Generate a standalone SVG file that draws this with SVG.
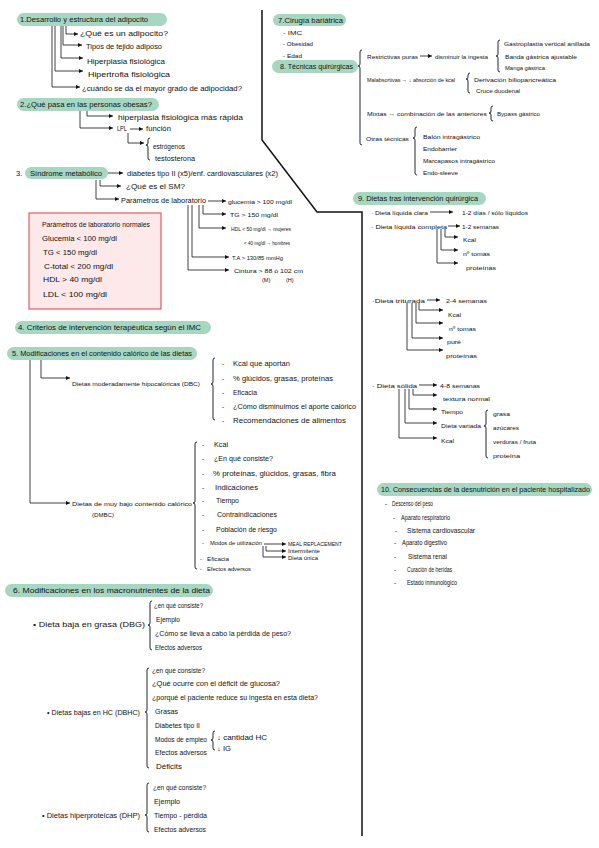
<svg xmlns="http://www.w3.org/2000/svg" width="599" height="848" viewBox="0 0 599 848">
<defs>
<style>
text{font-family:"Liberation Sans",Arial,sans-serif;fill:#111;font-size:6.5px}
.pill{fill:#a7d7c1}
.h{font-size:7.5px}
.c{stroke:#111;stroke-width:0.8;fill:none}
.a{marker-end:url(#ar)}
.br{stroke:#111;stroke-width:0.9;fill:none}
.s5{font-size:5.5px}.s55{font-size:6px}.s6{font-size:6.5px}.s7{font-size:7.5px}
.div{stroke:#111;stroke-width:1.5;fill:none}
</style>
<marker id="ar" viewBox="0 0 6 6" refX="6" refY="3" markerWidth="4" markerHeight="4" markerUnits="userSpaceOnUse" orient="auto"><path d="M0,0 L6,3 L0,6 z" fill="#111"/></marker>
</defs>
<rect width="599" height="848" fill="#fff"/>

<g id="connectors">
<path class="div" d="M262,10 V140 L317,212 H362 V836"/>
<path class="c a" d="M66,26 V34 H78"/>
<path class="c a" d="M63,26 V45 H82"/>
<path class="c a" d="M61,26 V58 H83"/>
<path class="c a" d="M55,26 V71 H83"/>
<path class="c a" d="M52,26 V87 H80"/>
<path class="c a" d="M87,111 V116 H113"/>
<path class="c a" d="M80,111 V128 H113"/>
<path class="c a" d="M130,129 H143"/>
<path class="c a" d="M128,133 V143 H144"/>
<path class="br" d="M150,138 Q148,138 148,140 L148,143 Q148,145 146,145 Q148,145 148,147 L148,158 Q148,160 150,160"/>
<path class="c a" d="M108,173 H123"/>
<path class="c a" d="M100,180 V186 H121"/>
<path class="c a" d="M96,180 V199 H119"/>
<path class="c a" d="M208,201 H226"/>
<path class="c a" d="M203,205 V214 H226"/>
<path class="c a" d="M199,205 V228 H226"/>
<path class="c a" d="M192,205 V257 H229"/>
<path class="c a" d="M188,205 V270 H229"/>
<path class="c a" d="M30,360 V503 H70"/>
<path class="c a" d="M41,360 V378 H70"/>
<path class="br" d="M215,358 Q213,358 213,360 L213,382 Q213,384 211,384 Q213,384 213,386 L213,418 Q213,420 215,420"/>
<path class="br" d="M197,442 Q195,442 195,444 L195,501 Q195,503 193,503 Q195,503 195,505 L195,567 Q195,569 197,569"/>
<path class="c a" d="M264,544 H286"/>
<path class="c a" d="M266,546 V551 H286"/>
<path class="c a" d="M263,546 V557 H286"/>
<path class="br" d="M152,601 Q150,601 150,603 L150,623 Q150,625 148,625 Q150,625 150,627 L150,648 Q150,650 152,650"/>
<path class="br" d="M149,668 Q147,668 147,670 L147,710 Q147,712 145,712 Q147,712 147,714 L147,766 Q147,768 149,768"/>
<path class="br" d="M215,731 Q213,731 213,733 L213,738 Q213,740 211,740 Q213,740 213,742 L213,748 Q213,750 215,750"/>
<path class="br" d="M149,783 Q147,783 147,785 L147,813 Q147,815 145,815 Q147,815 147,817 L147,830 Q147,832 149,832"/>
<path class="br" d="M362,50 Q360,50 360,52 L360,64 Q360,66 358,66 Q360,66 360,68 L360,143 Q360,145 362,145"/>
<path class="c a" d="M420,56 H432"/>
<path class="br" d="M500,40 Q498,40 498,42 L498,54 Q498,56 496,56 Q498,56 498,58 L498,70 Q498,72 500,72"/>
<path class="br" d="M470,73 Q468,73 468,75 L468,77 Q468,79 466,79 Q468,79 468,81 L468,91 Q468,93 470,93"/>
<path class="br" d="M493,106 Q491,106 491,108 L491,111 Q491,113 489,113 Q491,113 491,115 L491,119 Q491,121 493,121"/>
<path class="br" d="M417,127 Q415,127 415,129 L415,136 Q415,138 413,138 Q415,138 415,140 L415,173 Q415,175 417,175"/>
<path class="c a" d="M430,212 H453"/>
<path class="c a" d="M448,226 H460"/>
<path class="c a" d="M445,229 V237 H458"/>
<path class="c a" d="M441,229 V250 H458"/>
<path class="c a" d="M437,229 V263 H458"/>
<path class="c a" d="M427,300 H440"/>
<path class="c a" d="M419,303 V310 H443"/>
<path class="c a" d="M416,303 V323 H443"/>
<path class="c a" d="M412,303 V338 H443"/>
<path class="c a" d="M407,303 V350 H443"/>
<path class="c a" d="M419,385 H437"/>
<path class="c a" d="M413,389 V395 H437"/>
<path class="c a" d="M409,389 V409 H437"/>
<path class="c a" d="M405,389 V423 H437"/>
<path class="c a" d="M399,389 V438 H437"/>
<path class="br" d="M488,410 Q486,410 486,412 L486,424 Q486,426 484,426 Q486,426 486,428 L486,456 Q486,458 488,458"/>
</g>

<g id="n1">
<rect class="pill" x="17" y="13" width="150" height="13" rx="6.5"/>
<text class="h" x="20" y="22.3" textLength="128" lengthAdjust="spacingAndGlyphs">1.Desarrollo y estructura del adipocito</text>
<text class="s7" x="80" y="36" textLength="88" lengthAdjust="spacingAndGlyphs">¿Qué es un adipocito?</text>
<text class="s7" x="86" y="48.5" textLength="76" lengthAdjust="spacingAndGlyphs">Tipos de tejido adiposo</text>
<text class="s7" x="87" y="64" textLength="78" lengthAdjust="spacingAndGlyphs">Hiperplasia fisiológica</text>
<text class="s7" x="88" y="77" textLength="82" lengthAdjust="spacingAndGlyphs">Hipertrofia fisiológica</text>
<text class="s7" x="82" y="91" textLength="160" lengthAdjust="spacingAndGlyphs">¿cuándo se da el mayor grado de adipocidad?</text>
</g>

<g id="n2">
<rect class="pill" x="17" y="98" width="142" height="13" rx="6.5"/>
<text class="h" x="20" y="107.3" textLength="132" lengthAdjust="spacingAndGlyphs">2.¿Qué pasa en las personas obesas?</text>
<text class="s7" x="118" y="119.5" textLength="125" lengthAdjust="spacingAndGlyphs">hiperplasia fisiológica más rápida</text>
<text class="s6" x="117" y="131" textLength="10" lengthAdjust="spacingAndGlyphs">LPL</text>
<text class="s6" x="146" y="131" textLength="25" lengthAdjust="spacingAndGlyphs">función</text>
<text class="s6" x="153" y="149" textLength="32" lengthAdjust="spacingAndGlyphs">estrógenos</text>
<text class="s6" x="155" y="160.5" textLength="40" lengthAdjust="spacingAndGlyphs">testosterona</text>
</g>

<g id="n3">
<text class="h" x="16" y="175.5">3.</text>
<rect class="pill" x="25" y="167" width="83" height="12" rx="6"/>
<text class="h" x="30" y="175.8" textLength="72" lengthAdjust="spacingAndGlyphs">Síndrome metabólico</text>
<text class="s6" x="127" y="175.5" textLength="151" lengthAdjust="spacingAndGlyphs">diabetes tipo II (x5)/enf. cardiovasculares (x2)</text>
<text class="s6" x="126" y="188.5" textLength="59" lengthAdjust="spacingAndGlyphs">¿Qué es el SM?</text>
<text class="s6" x="121" y="203" textLength="85" lengthAdjust="spacingAndGlyphs">Parámetros de laboratorio</text>
<text class="s55" x="228" y="203.5" textLength="64" lengthAdjust="spacingAndGlyphs">glucemia &gt; 100 mg/dl</text>
<text class="s55" x="230" y="217" textLength="48" lengthAdjust="spacingAndGlyphs">TG &gt; 150 mg/dl</text>
<text class="s55" x="231" y="231" textLength="60" lengthAdjust="spacingAndGlyphs">HDL &lt; 50 mg/dl → mujeres</text>
<text class="s55" x="244" y="245" textLength="46" lengthAdjust="spacingAndGlyphs">&lt; 40 mg/dl → hombres</text>
<text class="s55" x="232" y="259.5" textLength="51" lengthAdjust="spacingAndGlyphs">T.A &gt; 130/85 mmHg</text>
<text class="s55" x="234" y="273" textLength="69" lengthAdjust="spacingAndGlyphs">Cintura &gt; 88 ó 102 cm</text>
<text class="s5" x="262" y="281.5">(M)</text>
<text class="s5" x="286" y="281.5">(H)</text>
</g>

<g id="normales">
<rect x="29" y="213" width="132" height="96" fill="#fde9e9" stroke="#e35d5d" stroke-width="1.2"/>
<text class="s6" x="42" y="226.5" textLength="108" lengthAdjust="spacingAndGlyphs">Parámetros de laboratorio normales</text>
<text class="s6" x="42" y="240.5" textLength="75" lengthAdjust="spacingAndGlyphs">Glucemia &lt; 100 mg/dl</text>
<text class="s6" x="43" y="254.5" textLength="54" lengthAdjust="spacingAndGlyphs">TG &lt; 150 mg/dl</text>
<text class="s6" x="44" y="268.5" textLength="69" lengthAdjust="spacingAndGlyphs">C-total &lt; 200 mg/dl</text>
<text class="s6" x="43" y="281.5" textLength="59" lengthAdjust="spacingAndGlyphs">HDL &gt; 40 mg/dl</text>
<text class="s6" x="43" y="296.5" textLength="64" lengthAdjust="spacingAndGlyphs">LDL &lt; 100 mg/dl</text>
</g>

<g id="n4">
<rect class="pill" x="15" y="321" width="196" height="13" rx="6.5"/>
<text class="h" x="18" y="330.2" textLength="183" lengthAdjust="spacingAndGlyphs">4. Criterios de intervención terapéutica según el IMC</text>
</g>

<g id="n5">
<rect class="pill" x="7" y="347" width="190" height="13" rx="6.5"/>
<text class="h" x="12" y="356.2" textLength="180" lengthAdjust="spacingAndGlyphs">5. Modificaciones en el contenido calórico de las dietas</text>
<text class="s55" x="72" y="386" textLength="128" lengthAdjust="spacingAndGlyphs">Dietas moderadamente hipocalóricas (DBC)</text>
<text class="s6" x="222" y="365.5">-</text><text class="s6" x="233" y="365.5" textLength="57" lengthAdjust="spacingAndGlyphs">Kcal que aportan</text>
<text class="s6" x="222" y="380.5">-</text><text class="s6" x="233" y="380.5" textLength="100" lengthAdjust="spacingAndGlyphs">% glúcidos, grasas, proteínas</text>
<text class="s6" x="222" y="394.5">-</text><text class="s6" x="233" y="394.5" textLength="24" lengthAdjust="spacingAndGlyphs">Eficacia</text>
<text class="s6" x="222" y="408.5">-</text><text class="s6" x="233" y="408.5" textLength="123" lengthAdjust="spacingAndGlyphs">¿Cómo disminuimos el aporte calórico</text>
<text class="s6" x="222" y="422.5">-</text><text class="s6" x="233" y="422.5" textLength="113" lengthAdjust="spacingAndGlyphs">Recomendaciones de alimentos</text>

<text class="s55" x="72" y="505.5" textLength="120" lengthAdjust="spacingAndGlyphs">Dietas de muy bajo contenido calórico</text>
<text class="s55" x="92" y="516.5" textLength="22" lengthAdjust="spacingAndGlyphs">(DMBC)</text>
<text class="s6" x="202" y="446.5">-</text><text class="s6" x="214" y="446.5" textLength="14" lengthAdjust="spacingAndGlyphs">Kcal</text>
<text class="s6" x="202" y="460.5">-</text><text class="s6" x="214" y="460.5" textLength="59" lengthAdjust="spacingAndGlyphs">¿En qué consiste?</text>
<text class="s6" x="202" y="475.5">-</text><text class="s6" x="213" y="475.5" textLength="123" lengthAdjust="spacingAndGlyphs">% proteínas, glúcidos, grasas, fibra</text>
<text class="s6" x="202" y="489.5">-</text><text class="s6" x="215" y="489.5" textLength="43" lengthAdjust="spacingAndGlyphs">Indicaciones</text>
<text class="s6" x="202" y="502.5">-</text><text class="s6" x="216" y="502.5" textLength="23" lengthAdjust="spacingAndGlyphs">Tiempo</text>
<text class="s6" x="202" y="516.5">-</text><text class="s6" x="217" y="516.5" textLength="60" lengthAdjust="spacingAndGlyphs">Contraindicaciones</text>
<text class="s6" x="202" y="531.5">-</text><text class="s6" x="216" y="531.5" textLength="61" lengthAdjust="spacingAndGlyphs">Población de riesgo</text>
<text class="s55" x="202" y="545">-</text><text class="s5" x="210" y="545" textLength="52" lengthAdjust="spacingAndGlyphs">Modos de utilización</text>
<text class="s5" x="288" y="545.5" textLength="54" lengthAdjust="spacingAndGlyphs">MEAL REPLACEMENT</text>
<text class="s5" x="288" y="552.5" textLength="32" lengthAdjust="spacingAndGlyphs">Intermitente</text>
<text class="s5" x="288" y="559.5" textLength="30" lengthAdjust="spacingAndGlyphs">Dieta única</text>
<text class="s55" x="200" y="561">-</text><text class="s55" x="207" y="561" textLength="22" lengthAdjust="spacingAndGlyphs">Eficacia</text>
<text class="s55" x="200" y="571">-</text><text class="s55" x="207" y="571" textLength="44" lengthAdjust="spacingAndGlyphs">Efectos adversos</text>
</g>

<g id="n6">
<rect class="pill" x="5" y="584" width="208" height="13" rx="6.5"/>
<text class="h" x="13" y="593.2" textLength="197" lengthAdjust="spacingAndGlyphs">6. Modificaciones en los macronutrientes de la dieta</text>
<text class="s6" x="33" y="627" textLength="112" lengthAdjust="spacingAndGlyphs">• Dieta baja en grasa (DBG)</text>
<text class="s6" x="154" y="607.5" textLength="49" lengthAdjust="spacingAndGlyphs">¿en qué consiste?</text>
<text class="s6" x="156" y="621.5" textLength="24" lengthAdjust="spacingAndGlyphs">Ejemplo</text>
<text class="s6" x="155" y="635.5" textLength="136" lengthAdjust="spacingAndGlyphs">¿Cómo se lleva a cabo la pérdida de peso?</text>
<text class="s6" x="155" y="649.5" textLength="47" lengthAdjust="spacingAndGlyphs">Efectos adversos</text>

<text class="s6" x="47" y="714.5" textLength="93" lengthAdjust="spacingAndGlyphs">• Dietas bajas en HC (DBHC)</text>
<text class="s6" x="152" y="672.5" textLength="53" lengthAdjust="spacingAndGlyphs">¿en qué consiste?</text>
<text class="s6" x="152" y="685.5" textLength="128" lengthAdjust="spacingAndGlyphs">¿Qué ocurre con el déficit de glucosa?</text>
<text class="s6" x="152" y="699.5" textLength="166" lengthAdjust="spacingAndGlyphs">¿porqué el paciente reduce su ingesta en esta dieta?</text>
<text class="s6" x="155" y="713.5" textLength="23" lengthAdjust="spacingAndGlyphs">Grasas</text>
<text class="s6" x="155" y="727.5" textLength="45" lengthAdjust="spacingAndGlyphs">Diabetes tipo II</text>
<text class="s6" x="155" y="741.5" textLength="52" lengthAdjust="spacingAndGlyphs">Modos de empleo</text>
<text class="s6" x="217" y="739.5" textLength="50" lengthAdjust="spacingAndGlyphs">↓ cantidad HC</text>
<text class="s6" x="217" y="750.5" textLength="14" lengthAdjust="spacingAndGlyphs">↓ IG</text>
<text class="s6" x="155" y="754.5" textLength="52" lengthAdjust="spacingAndGlyphs">Efectos adversos</text>
<text class="s6" x="156" y="768.5" textLength="26" lengthAdjust="spacingAndGlyphs">Déficits</text>

<text class="s6" x="42" y="817.5" textLength="98" lengthAdjust="spacingAndGlyphs">• Dietas hiperproteicas (DHP)</text>
<text class="s6" x="153" y="789.5" textLength="53" lengthAdjust="spacingAndGlyphs">¿en qué consiste?</text>
<text class="s6" x="154" y="804" textLength="26" lengthAdjust="spacingAndGlyphs">Ejemplo</text>
<text class="s6" x="154" y="817.5" textLength="53" lengthAdjust="spacingAndGlyphs">Tiempo - pérdida</text>
<text class="s6" x="154" y="832" textLength="52" lengthAdjust="spacingAndGlyphs">Efectos adversos</text>
</g>

<g id="n7">
<rect class="pill" x="273" y="14" width="73" height="12" rx="6"/>
<text class="h" x="278" y="22.8" textLength="65" lengthAdjust="spacingAndGlyphs">7.Cirugía bariátrica</text>
<text class="s55" x="283" y="34.5" textLength="19" lengthAdjust="spacingAndGlyphs">- IMC</text>
<text class="s55" x="283" y="45.5" textLength="30" lengthAdjust="spacingAndGlyphs">- Obesidad</text>
<text class="s55" x="283" y="57.5" textLength="19" lengthAdjust="spacingAndGlyphs">- Edad</text>
</g>

<g id="n8">
<rect class="pill" x="272" y="60" width="86" height="13" rx="6.5"/>
<text class="h" x="280" y="69.2" textLength="73" lengthAdjust="spacingAndGlyphs">8. Técnicas quirúrgicas</text>
<text class="s55" x="367" y="58.5" textLength="51" lengthAdjust="spacingAndGlyphs">Restrictivas puras</text>
<text class="s55" x="435" y="58.5" textLength="53" lengthAdjust="spacingAndGlyphs">disminuir la ingesta</text>
<text class="s55" x="504" y="45.5" textLength="86" lengthAdjust="spacingAndGlyphs">Gastroplastia vertical anillada</text>
<text class="s55" x="505" y="58.5" textLength="72" lengthAdjust="spacingAndGlyphs">Banda gástrica ajustable</text>
<text class="s55" x="505" y="70" textLength="40" lengthAdjust="spacingAndGlyphs">Manga gástrica</text>
<text class="s55" x="367" y="81.5" textLength="88" lengthAdjust="spacingAndGlyphs">Malabsortivas → ↓ absorción de kcal</text>
<text class="s55" x="474" y="81.5" textLength="82" lengthAdjust="spacingAndGlyphs">Derivación biliopancreática</text>
<text class="s55" x="476" y="93" textLength="44" lengthAdjust="spacingAndGlyphs">Cruce duodenal</text>
<text class="s55" x="367" y="115.5" textLength="120" lengthAdjust="spacingAndGlyphs">Mixtas → combinación de las anteriores</text>
<text class="s55" x="497" y="116" textLength="43" lengthAdjust="spacingAndGlyphs">Bypass gástrico</text>
<text class="s55" x="366" y="140.5" textLength="43" lengthAdjust="spacingAndGlyphs">Otras técnicas</text>
<text class="s55" x="423" y="138.5" textLength="57" lengthAdjust="spacingAndGlyphs">Balón intragástrico</text>
<text class="s55" x="423" y="150.5" textLength="34" lengthAdjust="spacingAndGlyphs">Endobarrier</text>
<text class="s55" x="423" y="162.5" textLength="72" lengthAdjust="spacingAndGlyphs">Marcapasos intragástrico</text>
<text class="s55" x="423" y="174.5" textLength="35" lengthAdjust="spacingAndGlyphs">Endo-sleeve</text>
</g>

<g id="n9">
<rect class="pill" x="353" y="192" width="133" height="13" rx="6.5"/>
<text class="h" x="358" y="201.2" textLength="120" lengthAdjust="spacingAndGlyphs">9. Dietas tras intervención quirúrgica</text>
<text class="s55" x="371" y="214.5" textLength="57" lengthAdjust="spacingAndGlyphs">· Dieta líquida clara</text>
<text class="s55" x="462" y="214.5" textLength="66" lengthAdjust="spacingAndGlyphs">1-2 días / sólo líquidos</text>
<text class="s55" x="371" y="228.5" textLength="76" lengthAdjust="spacingAndGlyphs">· Dieta líquida completa</text>
<text class="s55" x="462" y="228.5" textLength="37" lengthAdjust="spacingAndGlyphs">1-2 semanas</text>
<text class="s55" x="463" y="241.5" textLength="13" lengthAdjust="spacingAndGlyphs">Kcal</text>
<text class="s55" x="463" y="255.5" textLength="27" lengthAdjust="spacingAndGlyphs">nº tomas</text>
<text class="s55" x="466" y="269.5" textLength="30" lengthAdjust="spacingAndGlyphs">proteínas</text>
<text class="s55" x="372" y="302.5" textLength="53" lengthAdjust="spacingAndGlyphs">·Dieta triturada</text>
<text class="s55" x="446" y="302.5" textLength="41" lengthAdjust="spacingAndGlyphs">2-4 semanas</text>
<text class="s55" x="448" y="316.5" textLength="13" lengthAdjust="spacingAndGlyphs">Kcal</text>
<text class="s55" x="449" y="330.5" textLength="27" lengthAdjust="spacingAndGlyphs">nº tomas</text>
<text class="s55" x="447" y="343.5" textLength="14" lengthAdjust="spacingAndGlyphs">puré</text>
<text class="s55" x="446" y="358" textLength="31" lengthAdjust="spacingAndGlyphs">proteínas</text>
<text class="s55" x="372" y="387.5" textLength="45" lengthAdjust="spacingAndGlyphs">· Dieta sólida</text>
<text class="s55" x="440" y="387.5" textLength="40" lengthAdjust="spacingAndGlyphs">4-8 semanas</text>
<text class="s55" x="443" y="400.5" textLength="47" lengthAdjust="spacingAndGlyphs">textura normal</text>
<text class="s55" x="441" y="413.5" textLength="22" lengthAdjust="spacingAndGlyphs">Tiempo</text>
<text class="s55" x="441" y="427.5" textLength="40" lengthAdjust="spacingAndGlyphs">Dieta variada</text>
<text class="s55" x="441" y="442.5" textLength="13" lengthAdjust="spacingAndGlyphs">Kcal</text>
<text class="s55" x="493" y="415.5" textLength="17" lengthAdjust="spacingAndGlyphs">grasa</text>
<text class="s55" x="493" y="429.5" textLength="26" lengthAdjust="spacingAndGlyphs">azúcares</text>
<text class="s55" x="493" y="443.5" textLength="43" lengthAdjust="spacingAndGlyphs">verduras / fruta</text>
<text class="s55" x="493" y="457.5" textLength="27" lengthAdjust="spacingAndGlyphs">proteína</text>
</g>

<g id="n10">
<rect class="pill" x="377" y="483" width="215" height="13" rx="6.5"/>
<text class="h" x="381" y="492.2" textLength="209" lengthAdjust="spacingAndGlyphs">10. Consecuencias de la desnutrición en el paciente hospitalizado</text>
<text class="s6" x="385" y="505.5">-</text><text class="s6" x="392" y="505.5" textLength="41" lengthAdjust="spacingAndGlyphs">Descenso del peso</text>
<text class="s6" x="393" y="519.5">-</text><text class="s6" x="401" y="519.5" textLength="49" lengthAdjust="spacingAndGlyphs">Aparato respiratorio</text>
<text class="s6" x="395" y="532.5">-</text><text class="s6" x="407" y="532.5" textLength="68" lengthAdjust="spacingAndGlyphs">Sistema cardiovascular</text>
<text class="s6" x="394" y="544.5">-</text><text class="s6" x="402" y="544.5" textLength="45" lengthAdjust="spacingAndGlyphs">Aparato digestivo</text>
<text class="s6" x="394" y="558.5">-</text><text class="s6" x="408" y="558.5" textLength="39" lengthAdjust="spacingAndGlyphs">Sistema renal</text>
<text class="s6" x="394" y="571.5">-</text><text class="s6" x="407" y="571.5" textLength="45" lengthAdjust="spacingAndGlyphs">Curación de heridas</text>
<text class="s6" x="394" y="584.5">-</text><text class="s6" x="407" y="584.5" textLength="50" lengthAdjust="spacingAndGlyphs">Estado inmunológico</text>
</g>
</svg>
